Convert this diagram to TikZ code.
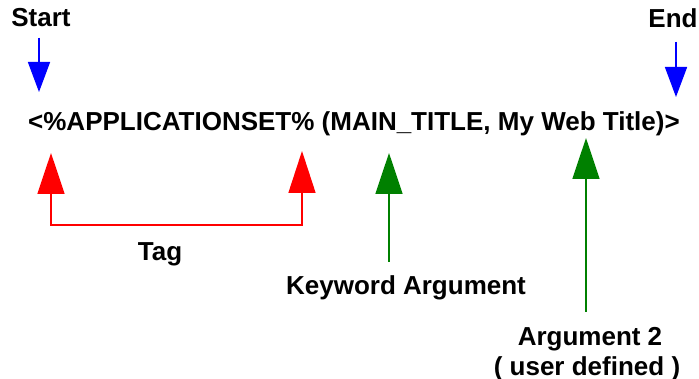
\documentclass[tikz,border=0pt]{standalone}
\usepackage{fontspec}
\setmainfont{Liberation Sans}
\usetikzlibrary{arrows.meta}
\definecolor{pblue}{RGB}{0,0,255}
\definecolor{pred}{RGB}{255,0,0}
\definecolor{pgreen}{RGB}{0,128,0}
\tikzset{
  lbl/.style={font=\fontsize{26pt}{30pt}\selectfont\bfseries, inner sep=0pt, anchor=base},
  conn/.style={line width=1.6pt},
  headA/.style={-{Triangle[width=22pt,length=30pt]}},
  headB/.style={-{Triangle[width=27pt,length=41pt]}},
  headBB/.style={{Triangle[width=27pt,length=41pt]}-{Triangle[width=27pt,length=42pt]}},
}
\begin{document}
\begin{tikzpicture}[x=1pt,y=-1pt]
  \useasboundingbox (0,0) rectangle (699,379);

  % labels
  \node[lbl] (start) at (41,27) {Start};
  \node[lbl] (end)   at (673,28) {End};
  \node[lbl, anchor=base west] (expr) at (28,131)
    {<\%APPLICATIONSET\% (MAIN\_TITLE, My Web Title)>};
  \node[lbl] (tag) at (160,261) {Tag};
  \node[lbl] (kw)  at (406,295) {Keyword Argument};
  \node[lbl] (arg2) at (590,345) {Argument 2};
  \node[lbl] (udef) at (587,375) {( user defined )};

  % connector ends
  \coordinate (sTop) at (39,38);   \coordinate (sTip) at (39,92);
  \coordinate (eTop) at (676,42);  \coordinate (eTip) at (676,97);
  \coordinate (tL) at (51,153);    \coordinate (tR) at (302,151);
  \coordinate (kTip) at (389,153); \coordinate (kBot) at (389,262);
  \coordinate (aTip) at (586,138); \coordinate (aBot) at (586,312);

  % start / end markers
  \draw[conn, pblue, headA, fill=pblue] (sTop) -- (sTip);
  \draw[conn, pblue, headA, fill=pblue] (eTop) -- (eTip);

  % tag bracket
  \draw[conn, pred, headBB] (tL) -- (tL |- 0,225) -- (tR |- 0,225) -- (tR);

  % argument pointers
  \draw[conn, pgreen, headB] (kBot) -- (kTip);
  \draw[conn, pgreen, headB] (aBot) -- (aTip);
\end{tikzpicture}
\end{document}
